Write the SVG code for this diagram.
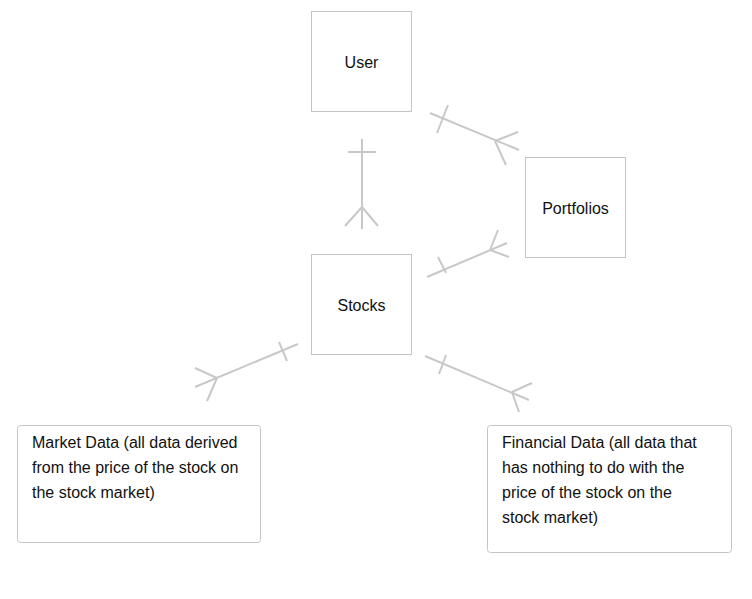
<svg xmlns="http://www.w3.org/2000/svg" width="752" height="599" viewBox="0 0 752 599">
<style>
.box{fill:#fff;stroke:#c4c4c4;stroke-width:1}
.lbl{font-family:"Liberation Sans",Arial,sans-serif;font-size:16px;fill:#111}
.ctr{text-anchor:middle}
.conn line{stroke:#c8c8c8;stroke-width:2;stroke-linecap:butt}
</style>
<rect width="752" height="599" fill="#fff"/>
<g id="connectors" class="conn">
  <g id="user-stocks">
    <line x1="362" y1="139" x2="362" y2="229"/>
    <line x1="348" y1="152" x2="376" y2="152"/>
    <line x1="362" y1="207" x2="345" y2="226"/>
    <line x1="362" y1="207" x2="378" y2="226"/>
  </g>
  <g id="user-portfolios">
    <line x1="430" y1="113" x2="519" y2="150"/>
    <line x1="448" y1="105" x2="437" y2="133"/>
    <line x1="495" y1="141" x2="518" y2="132"/>
    <line x1="495" y1="141" x2="506" y2="165"/>
  </g>
  <g id="stocks-portfolios">
    <line x1="427" y1="277" x2="507" y2="243"/>
    <line x1="438" y1="257" x2="446" y2="273"/>
    <line x1="490" y1="250" x2="498" y2="230"/>
    <line x1="490" y1="250" x2="509" y2="257"/>
  </g>
  <g id="stocks-market">
    <line x1="298" y1="344" x2="195" y2="387"/>
    <line x1="279" y1="342" x2="287" y2="361"/>
    <line x1="217" y1="378" x2="195" y2="368"/>
    <line x1="217" y1="378" x2="207" y2="401"/>
  </g>
  <g id="stocks-financial">
    <line x1="425" y1="356" x2="529" y2="400"/>
    <line x1="446" y1="355" x2="439" y2="374"/>
    <line x1="512" y1="392" x2="532" y2="383"/>
    <line x1="512" y1="392" x2="519" y2="412"/>
  </g>
</g>
<g id="user">
  <rect class="box" x="311.5" y="11.5" width="100" height="100"/>
  <text class="lbl ctr" x="361.5" y="67.5">User</text>
</g>
<g id="portfolios">
  <rect class="box" x="525.5" y="157.5" width="100" height="100"/>
  <text class="lbl ctr" x="575.5" y="213.5">Portfolios</text>
</g>
<g id="stocks">
  <rect class="box" x="311.5" y="254.5" width="100" height="100"/>
  <text class="lbl ctr" x="361.5" y="310.5">Stocks</text>
</g>
<g id="market-data">
  <rect class="box" x="17.5" y="425.5" width="243" height="117" rx="3"/>
  <text class="lbl" x="32" y="447.5">Market Data (all data derived</text>
  <text class="lbl" x="32" y="472.5">from the price of the stock on</text>
  <text class="lbl" x="32" y="497.5">the stock market)</text>
</g>
<g id="financial-data">
  <rect class="box" x="487.5" y="425.5" width="244" height="127" rx="3"/>
  <text class="lbl" x="502" y="447.5">Financial Data (all data that</text>
  <text class="lbl" x="502" y="472.5">has nothing to do with the</text>
  <text class="lbl" x="502" y="497.5">price of the stock on the</text>
  <text class="lbl" x="502" y="522.5">stock market)</text>
</g>
</svg>
